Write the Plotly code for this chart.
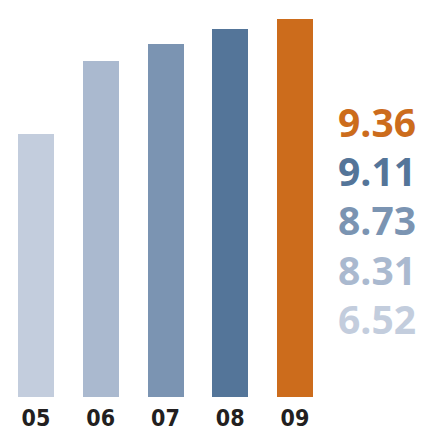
import plotly.graph_objects as go

# Yearly values
years = ["05", "06", "07", "08", "09"]
values = [6.52, 8.31, 8.73, 9.11, 9.36]
colors = ["#c3cddd", "#aab9cf", "#7b94b2", "#547599", "#cc6c1c"]

fig = go.Figure(
    go.Bar(
        x=list(range(len(years))),
        y=values,
        marker=dict(color=colors, line=dict(width=0)),
        width=0.556,
        hoverinfo="skip",
    )
)

# Value list on the right, largest first, each coloured like its bar
label_top = 121
label_step = 49.2
for i, (v, c) in enumerate(sorted(zip(values, colors), reverse=True)):
    fig.add_annotation(
        xref="paper", yref="paper",
        x=377 / 430, y=1 - (label_top + i * label_step) / 397,
        text=f"<b>{v:.2f}</b>",
        showarrow=False,
        xanchor="center", yanchor="middle",
        height=46, valign="middle",
        font=dict(family="Open Sans", size=39, color=c),
    )

fig.update_layout(
    width=430, height=435,
    margin=dict(l=0, r=0, t=0, b=38),
    paper_bgcolor="white", plot_bgcolor="white",
    showlegend=False,
    bargap=0,
    xaxis=dict(
        range=[-0.556, 6.085],
        tickmode="array",
        tickvals=list(range(len(years))),
        ticktext=[f"<b>{y}</b>" for y in years],
        showgrid=False, zeroline=False, showline=False, ticks="",
        tickfont=dict(family="DejaVu Sans Condensed, Liberation Sans", size=23, color="#231f20"),
        ticklabelstandoff=5,
    ),
    yaxis=dict(
        range=[0, 9.83],
        showgrid=False, zeroline=False, showline=False,
        showticklabels=False, ticks="",
    ),
)

fig.write_html("out.html")
